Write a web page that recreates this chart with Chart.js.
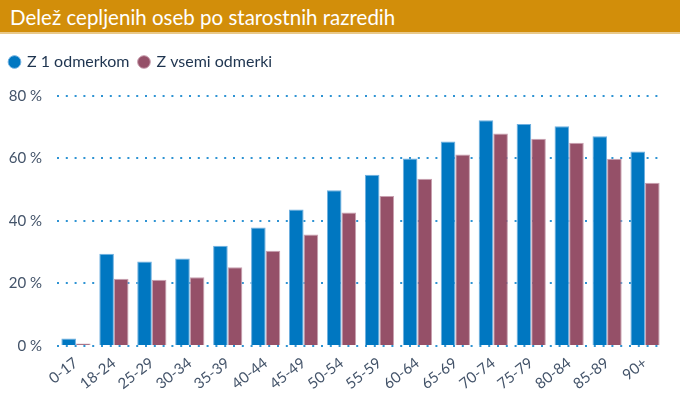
<!DOCTYPE html>
<html>
<head>
<meta charset="utf-8">
<script src="https://cdn.jsdelivr.net/npm/chart.js@4"></script>
<style>
  body { margin: 0; background: #fff; }
  #title {
    position: absolute; left: 0; top: 0; width: 680px; height: 34px;
    background: #d28e0a; border-bottom: 2px solid #e9c98a;
    color: #fff; font-family: Lato, sans-serif; font-size: 20.5px;
    line-height: 34px; padding-left: 10px; box-sizing: border-box;
  }
  #wrap { position: absolute; left: 0; top: 40px; width: 680px; height: 374px; }
</style>
</head>
<body>
<div id="title">Delež cepljenih oseb po starostnih razredih</div>
<div id="wrap"><canvas id="chart-area"></canvas></div>
<script>
var razredi = ['0-17', '18-24', '25-29', '30-34', '35-39', '40-44', '45-49', '50-54',
               '55-59', '60-64', '65-69', '70-74', '75-79', '80-84', '85-89', '90+'];
var enOdmerek = [2.4, 29.5, 27.0, 28.0, 32.1, 37.9, 43.7, 49.8, 54.8, 60.0, 65.4, 72.2, 71.0, 70.3, 67.1, 62.2];
var vsiOdmerki = [0.8, 21.5, 21.2, 22.0, 25.2, 30.5, 35.7, 42.7, 48.0, 53.5, 61.3, 68.0, 66.3, 65.0, 59.9, 52.2];
var yTicks = [0, 20, 40, 60, 80];

var tickColor = '#44546a';

// extra space under the legend
var legendGap = {
    id: 'legendGap',
    beforeInit: function(chart) {
        var fit = chart.legend.fit;
        chart.legend.fit = function() {
            fit.bind(chart.legend)();
            this.height += 16;
        };
    }
};

var ctx = document.getElementById('chart-area').getContext('2d');
var config = {
    type: 'bar',
    data: {
        labels: razredi,
        datasets: [{
            label: 'Z 1 odmerkom',
            data: enOdmerek,
            backgroundColor: '#0077c1',
            borderColor: '#6fb0e0',
            borderWidth: 1
        }, {
            label: 'Z vsemi odmerki',
            data: vsiOdmerki,
            backgroundColor: '#955068',
            borderColor: '#c9a0b0',
            borderWidth: 1
        }]
    },
    options: {
        responsive: true,
        maintainAspectRatio: false,
        animation: false,
        layout: { padding: { left: 0, right: 16, top: 4, bottom: 21 } },
        datasets: { bar: { categoryPercentage: 0.77, barPercentage: 1.0 } },
        plugins: {
            legend: {
                position: 'top',
                align: 'start',
                labels: {
                    usePointStyle: true,
                    pointStyle: 'circle',
                    boxWidth: 9,
                    boxHeight: 9,
                    padding: 10,
                    color: '#1f3550',
                    font: { family: 'Lato', size: 16 }
                }
            },
            tooltip: { enabled: false }
        },
        scales: {
            x: {
                grid: { display: false },
                border: { display: false },
                ticks: {
                    color: tickColor,
                    font: { family: 'Lato', size: 15 },
                    minRotation: 38,
                    maxRotation: 38,
                    autoSkip: false,
                    padding: 0
                }
            },
            y: {
                min: 0,
                max: 80,
                afterFit: function(s) { s.width = 57; },
                afterBuildTicks: function(s) { s.ticks = yTicks.map(function(v) { return { value: v }; }); },
                border: { display: false, dash: [2, 6.8] },
                grid: {
                    color: '#2e93d3',
                    lineWidth: 2,
                    drawTicks: false
                },
                ticks: {
                    color: tickColor,
                    font: { family: 'Lato', size: 15 },
                    padding: 15,
                    callback: function(v) { return v + ' %'; }
                }
            }
        }
    },
    plugins: [legendGap]
};
window.myBar = new Chart(ctx, config);
</script>
</body>
</html>
